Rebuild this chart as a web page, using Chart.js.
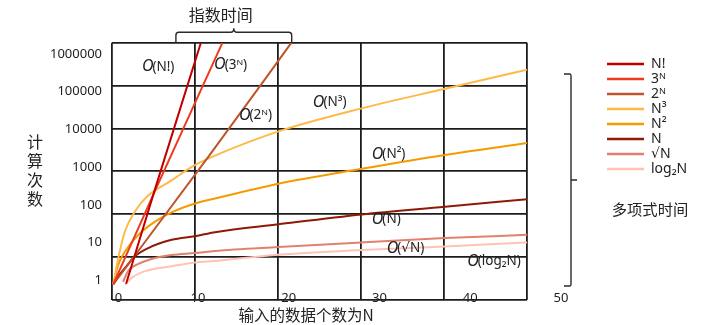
<!DOCTYPE html>
<html>
<head>
<meta charset="utf-8">
<script src="https://cdn.jsdelivr.net/npm/chart.js@4/dist/chart.umd.min.js"></script>
<style>
  html, body { margin: 0; padding: 0; background: #fff; }
  #wrap { width: 720px; height: 325px; }
</style>
</head>
<body>
<div id="wrap"><canvas id="growth" width="720" height="325"></canvas></div>
<script>
// Operation counts against input size N for each growth class
const factorialN = [1.7, 5.2, 10.7];
const factorialOps = [0.81, 268, 1.95e6];
const pow3N = [0.15, 5.3, 13.3];
const pow3Ops = [0.78, 269, 1.95e6];
const pow2N = [0.15, 11.6, 21.6];
const pow2Ops = [0.78, 1860, 1.95e6];
const cubeN = [0.15, 0.76, 1.57, 2.77, 4.34, 7.19, 9.6, 12.41, 20.24, 30.08, 40.12, 50];
const cubeOps = [0.78, 3.9, 19.9, 66.8, 176, 444, 1016, 2014, 9120, 36000, 119000, 380000];
const squareN = [0.15, 0.76, 1.57, 3.17, 5.18, 7.19, 10, 12.41, 20.04, 30.08, 40.12, 50];
const squareOps = [0.78, 2.6, 5.8, 16, 35.9, 63, 108, 147, 363, 900, 2100, 4340];
const linearN = [0.15, 0.76, 1.57, 2.77, 4.37, 7.19, 10, 12.41, 20.04, 30.08, 40.12, 50];
const linearOps = [0.78, 1.29, 2.13, 4.32, 7.13, 11.8, 14.7, 18.8, 30.5, 55.7, 88.9, 141];
const sqrtN = [1.33, 1.96, 3.17, 5.18, 7.19, 10, 12.41, 20.04, 30.08, 40.12, 50];
const sqrtOps = [0.91, 1.78, 2.71, 3.9, 4.67, 5.27, 5.95, 7.58, 10.1, 13.1, 16];
const logN = [1.57, 2.37, 3.98, 7.19, 10, 12.41, 20.04, 30.08, 40.12, 50];
const logOps = [0.76, 1.16, 1.75, 2.36, 2.97, 3.25, 4.76, 6.32, 7.91, 10.1];

const seriesLabels = ['N!', '3ᴺ', '2ᴺ', 'N³', 'N²', 'N', '√N', 'log₂N'];
const seriesColors = ['#c00000', '#ee3a1c', '#c0532c', '#ffb947', '#f59b00', '#8e1a06', '#e2806c', '#ffc2b6'];

const xTickValues = [0, 10, 20, 30, 40, 50];
const yTickValues = [1, 10, 100, 1000, 10000, 100000, 1000000];

// Big-O notes placed beside the curves (N, operation count)
const noteTexts = ['(N!)', '(3ᴺ)', '(2ᴺ)', '(N³)', '(N²)', '(N)', '(√N)', '(log₂N)'];
const noteN = [3.6, 12.3, 15.3, 24.2, 31.3, 31.3, 33.1, 42.8];
const noteOps = [4.56e5, 5.15e5, 2.36e4, 5.18e4, 2230, 41, 7.1, 3.25];

const LATIN = '"Noto Sans", "DejaVu Sans", sans-serif';
const CJK = '"Noto Sans CJK SC", "Noto Sans", sans-serif';
const INK = '#222';
const GRID = '#1c1c1c';

Chart.defaults.font.family = LATIN;
Chart.defaults.color = INK;

const pairs = (xs, ys) => xs.map((v, i) => ({ x: v, y: ys[i] }));
const seriesPoints = [
  pairs(factorialN, factorialOps),
  pairs(pow3N, pow3Ops),
  pairs(pow2N, pow2Ops),
  pairs(cubeN, cubeOps),
  pairs(squareN, squareOps),
  pairs(linearN, linearOps),
  pairs(sqrtN, sqrtOps),
  pairs(logN, logOps)
];

const decorations = {
  id: 'decorations',
  afterDatasetsDraw(chart) {
    const { ctx, scales: { x, y } } = chart;
    ctx.save();
    ctx.fillStyle = INK;
    ctx.textBaseline = 'middle';
    ctx.textAlign = 'left';
    noteTexts.forEach((t, i) => {
      const px = x.getPixelForValue(noteN[i]);
      const py = y.getPixelForValue(noteOps[i]);
      ctx.font = 'italic 16px ' + LATIN;
      ctx.fillText('O', px, py);
      const w = ctx.measureText('O').width;
      ctx.font = '13.5px ' + LATIN;
      ctx.fillText(t, px + w - 1, py);
    });
    ctx.restore();
  },
  afterDraw(chart) {
    const { ctx, chartArea, scales: { x } } = chart;
    ctx.save();
    ctx.fillStyle = INK;
    ctx.strokeStyle = '#2a2a2a';
    ctx.lineWidth = 1.4;
    ctx.textBaseline = 'middle';
    ctx.textAlign = 'center';

    // vertical axis title, one character per line
    ctx.font = '16px ' + CJK;
    ['计', '算', '次', '数'].forEach((ch, i) => ctx.fillText(ch, 35, 142 + i * 19));

    // horizontal axis title
    ctx.font = '15.5px ' + CJK;
    ctx.fillText('输入的数据个数为N', 306, 315);

    // brace over the exponential group
    const L = x.getPixelForValue(7.7), R = x.getPixelForValue(21.65), M = (L + R) / 2;
    const top = chartArea.top, hy = top - 10.5, r = 3;
    ctx.beginPath();
    ctx.moveTo(L, top);
    ctx.lineTo(L, hy + r);
    ctx.quadraticCurveTo(L, hy, L + r, hy);
    ctx.lineTo(M - r, hy);
    ctx.quadraticCurveTo(M, hy, M, hy - 4);
    ctx.quadraticCurveTo(M, hy, M + r, hy);
    ctx.lineTo(R - r, hy);
    ctx.quadraticCurveTo(R, hy, R, hy + r);
    ctx.lineTo(R, top);
    ctx.stroke();
    ctx.font = '16px ' + CJK;
    ctx.fillText('指数时间', M - 13, 15);

    // brace beside the polynomial group
    const bx = chartArea.right + 44;
    ctx.beginPath();
    ctx.moveTo(bx - 7, 74);
    ctx.lineTo(bx - 1, 74);
    ctx.quadraticCurveTo(bx, 74, bx, 76);
    ctx.lineTo(bx, 284);
    ctx.quadraticCurveTo(bx, 286, bx - 1, 286);
    ctx.lineTo(bx - 7, 286);
    ctx.moveTo(bx, 180);
    ctx.lineTo(bx + 6, 180);
    ctx.stroke();
    ctx.font = '15.3px ' + CJK;
    ctx.fillText('多项式时间', 650, 209);
    ctx.restore();
  }
};

new Chart(document.getElementById('growth'), {
  type: 'line',
  data: {
    datasets: seriesLabels.map((label, i) => ({
      label,
      data: seriesPoints[i],
      borderColor: seriesColors[i],
      backgroundColor: seriesColors[i],
      borderWidth: 2,
      pointRadius: 0,
      fill: false,
      cubicInterpolationMode: 'monotone',
      xAxisID: 'x',
      yAxisID: 'y'
    }))
  },
  options: {
    responsive: false,
    animation: false,
    devicePixelRatio: 1,
    layout: { padding: { left: 0, right: 24, top: 42.7, bottom: 0 } },
    scales: {
      x: {
        type: 'linear', position: 'bottom', min: 0, max: 50,
        ticks: { display: false, stepSize: 10 },
        grid: { color: GRID, lineWidth: 1.8, drawTicks: false },
        border: { display: false },
        afterFit: s => { s.height = 0; }
      },
      x2: {
        type: 'linear', position: 'bottom', min: 0.523, max: 46.25,
        grid: { display: false, drawTicks: false },
        border: { display: false },
        afterBuildTicks: s => { s.ticks = xTickValues.map(v => ({ value: v })); },
        ticks: {
          autoSkip: false, maxRotation: 0, mirror: true, padding: -6,
          font: { size: 13 }, color: INK,
          callback: v => (v === 0 ? '\u2007\u2007\u20070' : String(v))
        },
        afterFit: s => { s.height = 25; }
      },
      y: {
        type: 'logarithmic', position: 'left', min: 0.347, max: 1.98e6,
        grid: { display: false, drawTicks: false },
        border: { display: false },
        afterBuildTicks: s => { s.ticks = yTickValues.map(v => ({ value: v })); },
        ticks: { padding: 10, autoSkip: false, font: { size: 13 }, color: INK, callback: v => String(v) },
        afterFit: s => { s.width = 112; }
      },
      y2: {
        type: 'linear', position: 'right', min: 0, max: 6,
        ticks: { display: false, stepSize: 1 },
        grid: { color: GRID, lineWidth: 1.8, drawTicks: false },
        border: { display: false },
        afterFit: s => { s.width = 79; }
      }
    },
    plugins: {
      tooltip: { enabled: false },
      legend: {
        position: 'right',
        align: 'start',
        maxWidth: 90,
        title: { display: true, text: ' ', padding: 0, font: { size: 11 } },
        labels: {
          boxWidth: 37,
          boxHeight: 2.5,
          padding: 1,
          color: INK,
          font: { size: 14 },
          generateLabels(chart) {
            return Chart.defaults.plugins.legend.labels.generateLabels(chart)
              .map(item => Object.assign(item, { fillStyle: item.strokeStyle, lineWidth: 0 }));
          }
        }
      }
    }
  },
  plugins: [decorations]
});
</script>
</body>
</html>
